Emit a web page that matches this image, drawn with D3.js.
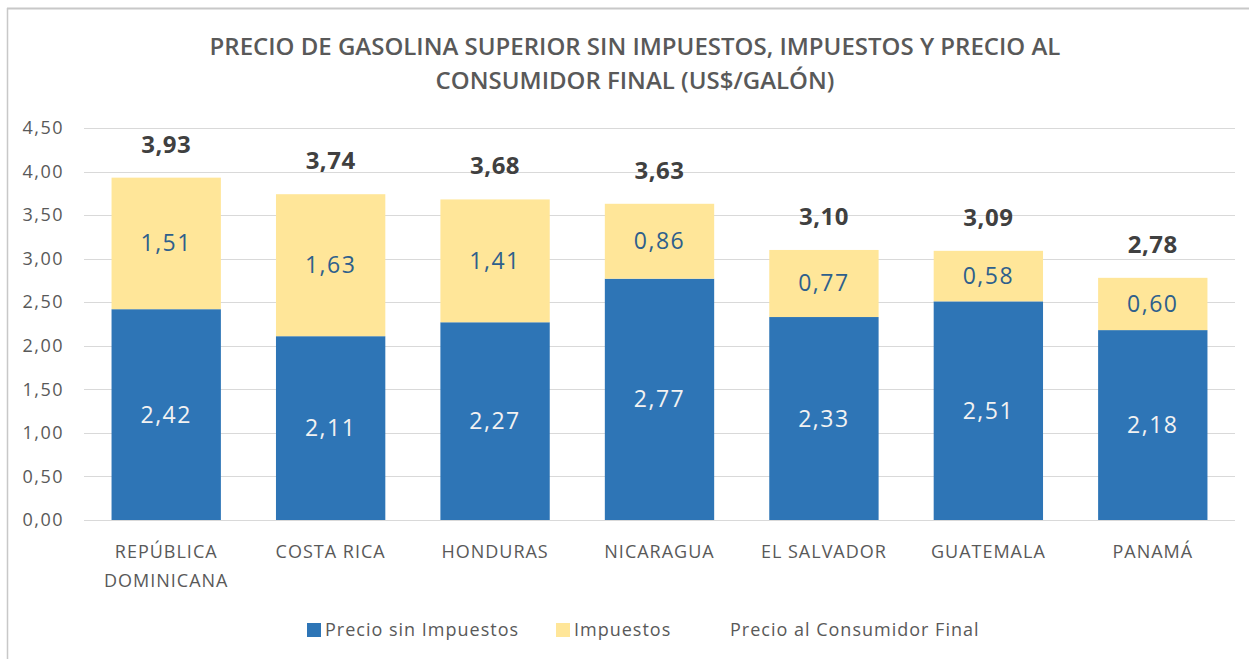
<!DOCTYPE html>
<html>
<head>
<meta charset="utf-8">
<script src="https://cdn.jsdelivr.net/npm/d3@7"></script>
<style>
  body { margin: 0; background: #fff; }
  svg { font-family: "Open Sans", "Noto Sans", sans-serif; }
</style>
</head>
<body>
<script>
const categories = ['REPÚBLICA DOMINICANA', 'COSTA RICA', 'HONDURAS', 'NICARAGUA', 'EL SALVADOR', 'GUATEMALA', 'PANAMÁ'];
const sinImpuestos = [2.42, 2.11, 2.27, 2.77, 2.33, 2.51, 2.18];
const impuestos = [1.51, 1.63, 1.41, 0.86, 0.77, 0.58, 0.60];
const precioFinal = [3.93, 3.74, 3.68, 3.63, 3.10, 3.09, 2.78];
const yTicks = [0, 0.5, 1, 1.5, 2, 2.5, 3, 3.5, 4, 4.5];

const width = 1249;
const height = 659;
const margin = { top: 128, right: 14, bottom: 139, left: 84 };

const fmt = v => d3.format('.2f')(v).replace('.', ',');

const svg = d3.select('body')
  .append('svg')
  .attr('width', width)
  .attr('height', height);

// frame of the chart area
svg.append('line').attr('x1', 7).attr('x2', width).attr('y1', 8.5).attr('y2', 8.5)
  .attr('stroke', '#c8c8c8').attr('stroke-width', 2);
svg.append('line').attr('x1', 7.5).attr('x2', 7.5).attr('y1', 8).attr('y2', height)
  .attr('stroke', '#c8c8c8').attr('stroke-width', 1.5);

// title
const title = svg.append('text')
  .attr('text-anchor', 'middle')
  .attr('fill', '#595959')
  .attr('font-size', 24)
  .attr('font-weight', 600);
title.append('tspan').attr('x', 635).attr('y', 55)
  .text('PRECIO DE GASOLINA SUPERIOR SIN IMPUESTOS, IMPUESTOS Y PRECIO AL');
title.append('tspan').attr('x', 635).attr('y', 89)
  .text('CONSUMIDOR FINAL (US$/GALÓN)');

const x = d3.scaleBand()
  .domain(categories)
  .range([margin.left, width - margin.right])
  .paddingInner(0.335)
  .paddingOuter(0.1675);

const y = d3.scaleLinear()
  .domain([0, 4.5])
  .range([height - margin.bottom, margin.top]);

// gridlines
svg.append('g')
  .selectAll('line')
  .data(yTicks)
  .join('line')
  .attr('x1', margin.left)
  .attr('x2', width - margin.right)
  .attr('y1', d => Math.round(y(d)) + 0.5)
  .attr('y2', d => Math.round(y(d)) + 0.5)
  .attr('stroke', '#d9d9d9')
  .attr('stroke-width', 1);

// y axis labels
const yAxis = d3.axisLeft(y)
  .tickValues(yTicks)
  .tickFormat(fmt)
  .tickSize(0)
  .tickPadding(20);

svg.append('g')
  .attr('transform', `translate(${margin.left},0)`)
  .call(yAxis)
  .call(g => g.select('.domain').remove())
  .call(g => g.selectAll('text')
    .attr('fill', '#595959')
    .attr('font-size', 18)
    .attr('letter-spacing', 1.5)
    .style('font-family', '"Open Sans", sans-serif'));

// stacked bars
const stackData = categories.map((c, i) => ({ cat: c, sin: sinImpuestos[i], imp: impuestos[i], total: precioFinal[i] }));
const series = d3.stack().keys(['sin', 'imp'])(stackData);
const colors = { sin: '#2e75b6', imp: '#ffe699' };
const labelColors = { sin: '#f2f2f2', imp: '#2e5f8c' };

const layers = svg.append('g')
  .selectAll('g')
  .data(series)
  .join('g')
  .attr('fill', s => colors[s.key]);

layers.selectAll('rect')
  .data(s => s)
  .join('rect')
  .attr('x', d => x(d.data.cat))
  .attr('width', x.bandwidth())
  .attr('y', d => y(d[1]))
  .attr('height', d => y(d[0]) - y(d[1]));

// segment labels
svg.append('g')
  .selectAll('g')
  .data(series)
  .join('g')
  .attr('fill', s => labelColors[s.key])
  .selectAll('text')
  .data(s => s.map(d => ({ d, key: s.key })))
  .join('text')
  .attr('text-anchor', 'middle')
  .attr('font-size', 23)
  .attr('letter-spacing', 1.5)
  .attr('x', o => x(o.d.data.cat) + x.bandwidth() / 2)
  .attr('y', o => (y(o.d[0]) + y(o.d[1])) / 2 + 8)
  .text(o => fmt(o.d.data[o.key]));

// totals
svg.append('g')
  .selectAll('text')
  .data(stackData)
  .join('text')
  .attr('text-anchor', 'middle')
  .attr('font-size', 24)
  .attr('font-weight', 700)
  .attr('letter-spacing', 0.5)
  .attr('fill', '#404040')
  .attr('x', d => x(d.cat) + x.bandwidth() / 2)
  .attr('y', d => y(d.total) - 25)
  .text(d => fmt(d.total));

// category labels
svg.append('g')
  .selectAll('text')
  .data(categories)
  .join('text')
  .attr('text-anchor', 'middle')
  .attr('fill', '#595959')
  .attr('font-size', 18)
  .attr('letter-spacing', 1)
  .attr('y', 558)
  .each(function(d) {
    const parts = d === 'REPÚBLICA DOMINICANA' ? ['REPÚBLICA', 'DOMINICANA'] : [d];
    const t = d3.select(this);
    parts.forEach((p, i) => {
      t.append('tspan')
        .attr('x', x(d) + x.bandwidth() / 2)
        .attr('dy', i === 0 ? 0 : 29)
        .text(p);
    });
  });

// legend
const legendItems = [
  { label: 'Precio sin Impuestos', color: colors.sin, x: 307 },
  { label: 'Impuestos', color: colors.imp, x: 556 },
  { label: 'Precio al Consumidor Final', color: null, x: 712 }
];

const legend = svg.append('g');
legendItems.forEach(item => {
  if (item.color) {
    legend.append('rect')
      .attr('x', item.x)
      .attr('y', 623)
      .attr('width', 14)
      .attr('height', 14)
      .attr('fill', item.color);
  }
  legend.append('text')
    .attr('x', item.x + 18)
    .attr('y', 636)
    .attr('fill', '#595959')
    .attr('font-size', 18)
    .attr('letter-spacing', 1)
    .text(item.label);
});
</script>
</body>
</html>
